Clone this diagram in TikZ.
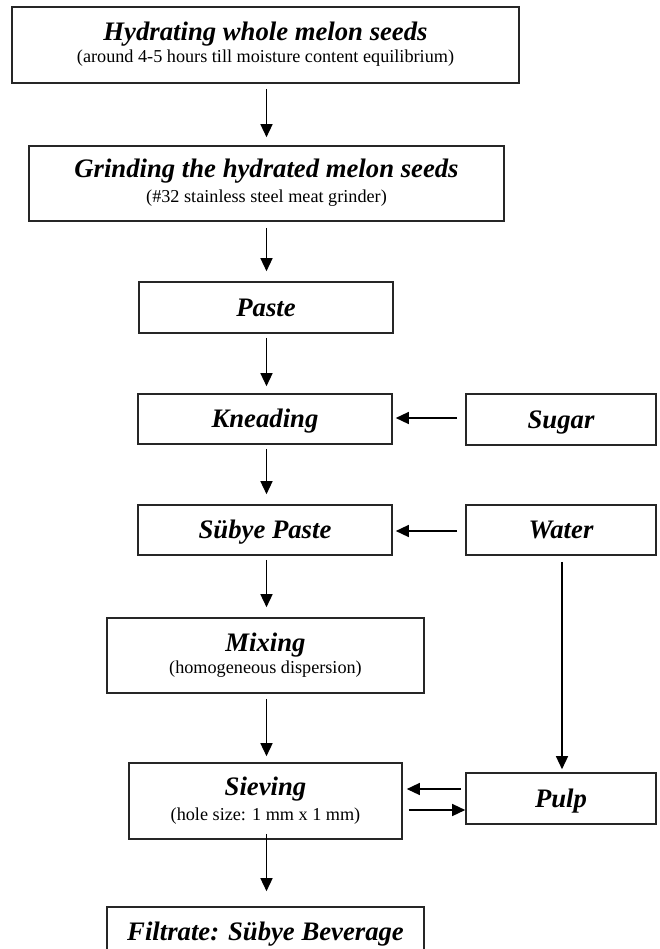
\documentclass[tikz,border=0pt]{standalone}
\usepackage{fontspec}
\setmainfont{Liberation Serif}
\usetikzlibrary{arrows.meta}
\tikzset{
  box/.style={draw=black!85, line width=1.6pt, rectangle, inner sep=0pt, fill=white},
  ttl/.style={font=\fontsize{26.7}{30}\selectfont\bfseries\itshape, inner sep=0pt, anchor=base},
  sub/.style={font=\fontsize{18.2}{20}\selectfont, inner sep=0pt, anchor=base},
  one/.style={box, font=\fontsize{26.7}{30}\selectfont\bfseries\itshape, text height=17pt, text depth=0pt},
  flow/.style={line width=1.4pt, -{Triangle[length=13pt,width=12pt]}},
}
\begin{document}
\begin{tikzpicture}[x=1pt,y=-1pt]
\useasboundingbox (0,0) rectangle (659,949);
\clip (0,0) rectangle (659,949);
\fill[white] (0,0) rectangle (659,949);
% two-line boxes
\node[box, minimum width=507pt, minimum height=76pt] (hyd) at (265.5,45) {};
\node[ttl] (hydt) at (265.5,41) {Hydrating whole melon seeds};
\node[sub] (hyds) at (265.5,63) {(around 4-5 hours till moisture content equilibrium)};
\node[box, minimum width=475pt, minimum height=75pt] (grind) at (266.5,183.5) {};
\node[ttl] (grindt) at (266.5,178) {Grinding the hydrated melon seeds};
\node[sub] (grinds) at (266.5,203) {(\#32 stainless steel meat grinder)};
% single-line boxes
\node[one, minimum width=254pt, minimum height=51pt] (paste) at (266,307.5) {Paste};
\node[one, minimum width=254pt, minimum height=50pt] (knead) at (265,419) {Kneading};
\node[one, minimum width=190pt, minimum height=51pt] (sugar) at (561,419.5) {Sugar};
\node[one, minimum width=254pt, minimum height=50pt] (subye) at (265,530) {Sübye Paste};
\node[one, minimum width=190pt, minimum height=50pt] (water) at (561,530) {Water};
% mixing
\node[box, minimum width=317pt, minimum height=75pt] (mix) at (265.5,655.5) {};
\node[ttl] (mixt) at (265.5,651) {Mixing};
\node[sub] (mixs) at (265.5,673) {(homogeneous dispersion)};
% sieving
\node[box, minimum width=273pt, minimum height=76pt] (sieve) at (265.5,801) {};
\node[ttl] (sievet) at (265.5,795) {Sieving};
\node[sub] (sieves) at (265.5,820) {(hole size: 1 mm x 1 mm)};
\node[one, minimum width=190pt, minimum height=51pt] (pulp) at (561,798.5) {Pulp};
% filtrate (cut at the bottom)
\node[box, minimum width=317pt, minimum height=75pt] (filt) at (265.5,944.5) {};
\node[ttl] (filtt) at (265.5,940) {Filtrate: Sübye Beverage};
% main column arrows
\draw[flow, shorten <=5pt, shorten >=8pt] (hyd.south -| 266.5,0) -- (grind.north -| 266.5,0);
\draw[flow, shorten <=6pt, shorten >=10pt] (grind.south -| 266.5,0) -- (paste.north -| 266.5,0);
\draw[flow, shorten <=4pt, shorten >=7pt] (paste.south -| 266.5,0) -- (knead.north -| 266.5,0);
\draw[flow, shorten <=4pt, shorten >=10pt] (knead.south -| 266.5,0) -- (subye.north -| 266.5,0);
\draw[flow, shorten <=4pt, shorten >=10pt] (subye.south -| 266.5,0) -- (mix.north -| 266.5,0);
\draw[flow, shorten <=5pt, shorten >=6pt] (mix.south -| 266.5,0) -- (sieve.north -| 266.5,0);
\draw[flow, shorten <=-6pt, shorten >=15pt] (sieve.south -| 266.5,0) -- (filt.north -| 266.5,0);
% side arrows
\draw[flow, shorten <=8pt, shorten >=3pt] (sugar.west |- 0,418) -- (knead.east |- 0,418);
\draw[flow, shorten <=8pt, shorten >=3pt] (water.west |- 0,531) -- (subye.east |- 0,531);
\draw[flow, shorten <=6pt, shorten >=3pt] (water.south -| 562,0) -- (pulp.north -| 562,0);
\draw[flow, shorten <=4pt, shorten >=4pt] (pulp.west |- 0,789) -- (sieve.east |- 0,789);
\draw[flow, shorten <=6pt, shorten >=0pt] (sieve.east |- 0,810) -- (pulp.west |- 0,810);
\end{tikzpicture}
\end{document}
